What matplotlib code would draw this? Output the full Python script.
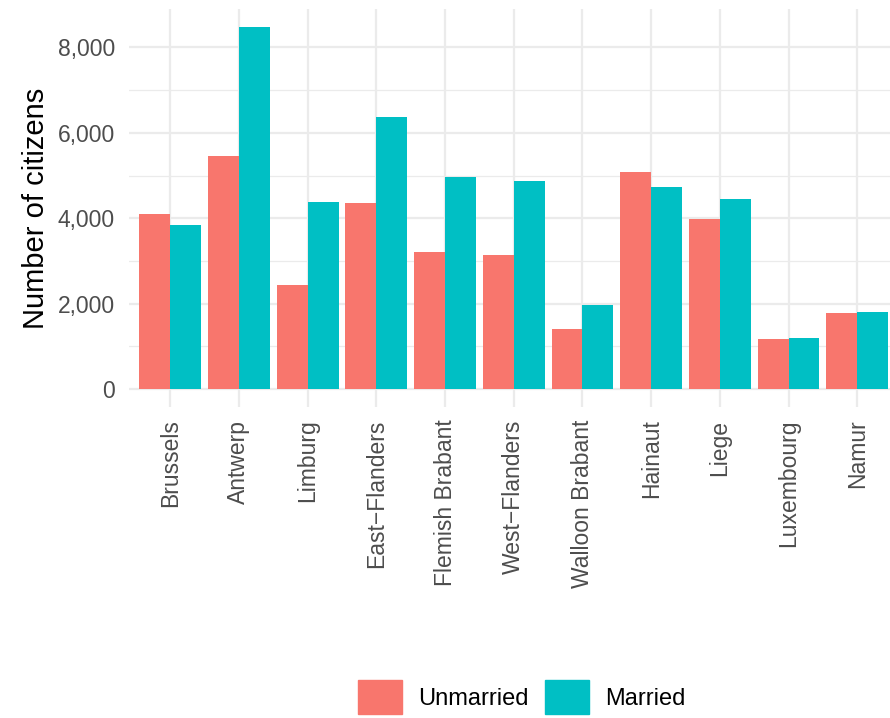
import matplotlib.pyplot as plt
from matplotlib.patches import Patch
from matplotlib.ticker import FuncFormatter, MultipleLocator
import numpy as np

provinces = ["Brussels", "Antwerp", "Limburg", "East\u2212Flanders", "Flemish Brabant",
             "West\u2212Flanders", "Walloon Brabant", "Hainaut", "Liege", "Luxembourg", "Namur"]
unmarried = [4095, 5454, 2430, 4352, 3204, 3133, 1399, 5079, 3977, 1165, 1774]
married = [3837, 8478, 4376, 6368, 4962, 4868, 1962, 4728, 4446, 1188, 1798]

plt.rcParams['font.family'] = ['Liberation Sans', 'DejaVu Sans']

W, H = 890, 718
fig = plt.figure(figsize=(W / 100, H / 100), dpi=100)
# panel spans x 129..898.5 px (cut at the right edge), y 9..407 px
ax = fig.add_axes([129 / W, 1 - 407 / H, (898.5 - 129) / W, (407 - 9) / H])

x = np.arange(1, len(provinces) + 1)
bw = 0.45
ax.bar(x - bw / 2, unmarried, width=bw, color="#F8766D", zorder=3)
ax.bar(x + bw / 2, married, width=bw, color="#00BFC4", zorder=3)

ymax = max(max(unmarried), max(married))
ax.set_ylim(-0.05 * ymax, ymax * 1.05)
ax.set_xlim(0.4, len(provinces) + 0.6)

ax.yaxis.set_major_locator(MultipleLocator(2000))
ax.yaxis.set_minor_locator(MultipleLocator(1000))
ax.yaxis.set_major_formatter(FuncFormatter(lambda v, p: f"{int(v):,}"))
ax.set_xticks(x)
ax.set_xticklabels(provinces, rotation=90, ha="center", va="top")

ax.grid(True, which="major", color="#EBEBEB", lw=1.6, zorder=0)
ax.grid(True, which="minor", axis="y", color="#EBEBEB", lw=0.9, zorder=0)
for s in ax.spines.values():
    s.set_visible(False)
ax.tick_params(which="both", length=0)
ax.tick_params(axis="y", labelsize=16.5, colors="#4D4D4D", pad=10)
ax.tick_params(axis="x", labelsize=16.5, colors="#4D4D4D", pad=9)

ax.set_ylabel("Number of citizens", fontsize=21, labelpad=6)

handles = [Patch(color="#F8766D", label="Unmarried"), Patch(color="#00BFC4", label="Married")]
fig.legend(handles=handles, loc="center", bbox_to_anchor=(522 / W, 1 - 697 / H), ncol=2,
           frameon=False, fontsize=17, handlelength=1.85, handleheight=1.8,
           handletextpad=0.7, columnspacing=0.7, borderpad=0)

fig.savefig("out.png", dpi=100)
